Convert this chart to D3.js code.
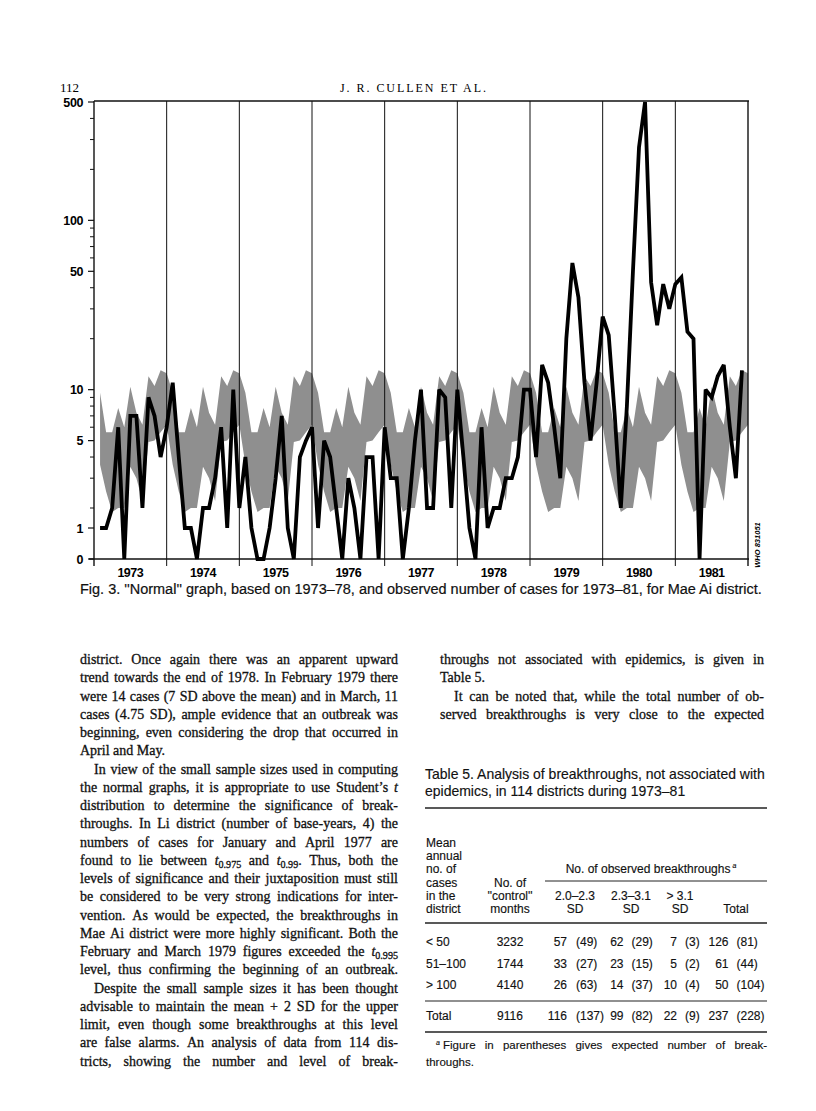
<!DOCTYPE html>
<html>
<head>
<meta charset="utf-8">
<script src="https://cdnjs.cloudflare.com/ajax/libs/d3/7.8.5/d3.min.js"></script>
<style>
  html, body { margin: 0; padding: 0; background: #fff; }
  svg { display: block; }
</style>
</head>
<body>
<svg id="page" width="816" height="1111"></svg>
<script>
// "normal" range for each calendar month (Jan..Dec), based on 1973-78
const normalUpper = [9.6, 5.6, 5.6, 7.8, 6.0, 10.4, 7.3, 6.2, 12, 10.5, 13, 12.5];
const normalLower = [3.6, 2.5, 1.8, 2.0, 2.0, 3.5, 3.0, 2.2, 4.9, 5.0, 5.6, 6.2];

// observed monthly cases, Mae Ai district
const years = [1973, 1974, 1975, 1976, 1977, 1978, 1979, 1980, 1981];
const cases1973 = [1, 1, 2, 6, 0, 7, 7, 2, 9, 7, 4, 6];
const cases1974 = [11, 4, 1, 1, 0, 2, 2, 3, 6, 1, 10, 2];
const cases1975 = [4, 1, 0, 0, 1, 3, 7, 1, 0, 4, 5, 6];
const cases1976 = [1, 5, 4, 2, 0, 3, 2, 0, 4, 4, 0, 6];
const cases1977 = [3, 3, 0, 2, 5, 10, 2, 2, 10, 9, 2, 10];
const cases1978 = [4, 1, 0, 6, 1, 2, 2, 3, 3, 4, 10, 10];
const cases1979 = [4, 14, 11, 6, 3, 20, 56, 35, 11, 5, 11, 27];
const cases1980 = [21, 7, 2, 8, 50, 270, 500, 43, 24, 42, 30, 42];
const cases1981 = [46, 22, 20, 0, 10, 9, 12, 14, 6, 3, 13];

const yMajor = [0, 1, 5, 10, 50, 100, 500];
const yMinor = [2, 3, 4, 6, 7, 8, 9, 20, 30, 40, 60, 70, 80, 90, 200, 300, 400];

// Table 5
const groups = ["< 50", "51\u2013100", "> 100"];
const controlMonths = [3232, 1744, 4140];
const obs20to23 = [57, 33, 26], exp20to23 = [49, 27, 63];
const obs23to31 = [62, 23, 14], exp23to31 = [29, 15, 37];
const obsOver31 = [7, 5, 10], expOver31 = [3, 2, 4];
const obsTotal = [126, 61, 50], expTotal = [81, 44, 104];
const totalRow = { months: 9116, obs: [116, 99, 22, 237], exp: [137, 82, 9, 228] };

const leftLines = [
  { t: "district. Once again there was an apparent upward" },
  { t: "trend towards the end of 1978. In February 1979 there" },
  { t: "were 14 cases (7 SD above the mean) and in March, 11" },
  { t: "cases (4.75 SD), ample evidence that an outbreak was" },
  { t: "beginning, even considering the drop that occurred in" },
  { t: "April and May.", last: true },
  { t: "In view of the small sample sizes used in computing", indent: true },
  { t: "the normal graphs, it is appropriate to use Student\u2019s _t" },
  { t: "distribution to determine the significance of break-" },
  { t: "throughs. In Li district (number of base-years, 4) the" },
  { t: "numbers of cases for January and April 1977 are" },
  { t: "found to lie between t[0.975] and t[0.99]. Thus, both the" },
  { t: "levels of significance and their juxtaposition must still" },
  { t: "be considered to be very strong indications for inter-" },
  { t: "vention. As would be expected, the breakthroughs in" },
  { t: "Mae Ai district were more highly significant. Both the" },
  { t: "February and March 1979 figures exceeded the t[0.995]" },
  { t: "level, thus confirming the beginning of an outbreak." },
  { t: "Despite the small sample sizes it has been thought", indent: true },
  { t: "advisable to maintain the mean + 2 SD for the upper" },
  { t: "limit, even though some breakthroughs at this level" },
  { t: "are false alarms. An analysis of data from 114 dis-" },
  { t: "tricts, showing the number and level of break-" }
];
const rightLines = [
  { t: "throughs not associated with epidemics, is given in" },
  { t: "Table 5.", last: true },
  { t: "It can be noted that, while the total number of ob-", indent: true },
  { t: "served breakthroughs is very close to the expected" }
];

const svg = d3.select("#page");
const serif = "'Liberation Serif', 'Times New Roman', serif";
const sans = "'Liberation Sans', Arial, Helvetica, sans-serif";

// ---------- running head ----------
svg.append("text").attr("x", 60).attr("y", 92)
  .attr("font-family", serif).attr("font-size", 13).text("112");
svg.append("text").attr("x", 413).attr("y", 92).attr("text-anchor", "middle")
  .attr("font-family", serif).attr("font-size", 12)
  .attr("textLength", 146).attr("lengthAdjust", "spacing")
  .text("J. R. CULLEN ET AL.");

// ---------- chart ----------
const X0 = 94, X1 = 748, YTOP = 102, YBOT = 559;
const x = d3.scaleLinear().domain([0, 108]).range([X0, X1]);
const yLog = d3.scaleLog().domain([2, 500]).range([508, YTOP]);
const yLow = d3.scaleLinear().domain([0, 1, 2]).range([YBOT, 528, 508]);
const y = v => (v >= 2 ? yLog(v) : yLow(v));

const chart = svg.append("g");

// normal band: same monthly pattern every year
const band = d3.range(108).map(m => ({ m, lo: normalLower[m % 12], hi: normalUpper[m % 12] }));
chart.append("path")
  .datum(band)
  .attr("fill", "#8f8f8f")
  .attr("d", d3.area().x(d => x(d.m + 1)).y0(d => y(d.lo)).y1(d => y(d.hi)));

// year separators (also the x-axis ticks)
chart.selectAll("line.year")
  .data(d3.range(0, 109, 12))
  .join("line")
  .attr("class", "year")
  .attr("x1", d => x(d)).attr("x2", d => x(d))
  .attr("y1", YTOP - 1).attr("y2", YBOT + 7)
  .attr("stroke", "#111").attr("stroke-width", (d, i) => (i === 0 || i === 9 ? 1.4 : 1));

// top border and x axis
chart.append("line").attr("x1", X0).attr("x2", X1 + 1).attr("y1", YTOP - 1).attr("y2", YTOP - 1)
  .attr("stroke", "#111").attr("stroke-width", 1.6);
chart.append("line").attr("x1", X0 - 5).attr("x2", X1 + 1).attr("y1", YBOT).attr("y2", YBOT)
  .attr("stroke", "#111").attr("stroke-width", 1.4);

// y ticks
chart.selectAll("line.ymaj").data(yMajor).join("line").attr("class", "ymaj")
  .attr("x1", X0 - 6).attr("x2", X0).attr("y1", d => y(d)).attr("y2", d => y(d))
  .attr("stroke", "#111").attr("stroke-width", 1.2);
chart.selectAll("line.ymin").data(yMinor).join("line").attr("class", "ymin")
  .attr("x1", X0 - 4).attr("x2", X0).attr("y1", d => y(d)).attr("y2", d => y(d))
  .attr("stroke", "#111").attr("stroke-width", 1);
chart.selectAll("text.ylab").data(yMajor).join("text").attr("class", "ylab")
  .attr("x", X0 - 11).attr("y", d => y(d)).attr("dy", "0.36em")
  .attr("text-anchor", "end")
  .attr("font-family", sans).attr("font-weight", "bold").attr("font-size", 12.5)
  .attr("letter-spacing", -0.4)
  .text(d => d);

// year labels
chart.selectAll("text.xlab").data(years).join("text").attr("class", "xlab")
  .attr("x", (d, i) => x(i * 12 + 6)).attr("y", YBOT + 18)
  .attr("text-anchor", "middle")
  .attr("font-family", sans).attr("font-weight", "bold").attr("font-size", 12.5)
  .attr("letter-spacing", -0.5)
  .text(d => d);

// observed cases
const observed = [].concat(cases1973, cases1974, cases1975, cases1976, cases1977,
  cases1978, cases1979, cases1980, cases1981);
chart.append("path")
  .datum(observed)
  .attr("fill", "none").attr("stroke", "#000").attr("stroke-width", 3.8)
  .attr("stroke-linejoin", "miter").attr("stroke-miterlimit", 2.5)
  .attr("d", d3.line().x((d, i) => x(i + 1)).y(d => y(d)));

// figure code
svg.append("text")
  .attr("transform", `translate(${X1 + 12},${YBOT - 14}) rotate(-90)`)
  .attr("text-anchor", "middle")
  .attr("font-family", sans).attr("font-size", 7.5).attr("font-weight", "bold")
  .attr("font-style", "italic")
  .text("WHO 831051");

// helper: fit a text's font size to a given width
function fitText(sel, width, base) {
  sel.attr("font-size", base);
  const w = sel.node().getComputedTextLength();
  const fs = base * width / w;
  sel.attr("font-size", fs);
  return fs;
}

// caption
const cap = svg.append("text").attr("x", 80).attr("y", 594)
  .attr("font-family", sans).attr("fill", "#111")
  .attr("stroke", "#111").attr("stroke-width", 0.2)
  .text("Fig. 3. ''Normal'' graph, based on 1973\u201378, and observed number of cases for 1973\u201381, for Mae Ai district.");
fitText(cap, 682, 12);

// ---------- body text (justified columns) ----------
const body = svg.append("g").attr("font-family", serif).attr("fill", "#111")
  .attr("stroke", "#111").attr("stroke-width", 0.3);

function fillWord(t, w, fs) {
  let m = w.match(/^t\[([^\]]+)\](.*)$/);
  if (m) {
    t.append("tspan").attr("font-style", "italic").text("t");
    t.append("tspan").attr("font-size", fs * 0.72).attr("dy", fs * 0.22).text(m[1]);
    if (m[2]) t.append("tspan").attr("dy", -fs * 0.22).text(m[2]);
    return;
  }
  m = w.match(/^_(.+)$/);
  if (m) { t.append("tspan").attr("font-style", "italic").text(m[1]); return; }
  t.text(w);
}

function layoutColumn(lines, x0, width, y0, lh, fs) {
  const g = body.append("g").attr("font-size", fs);
  lines.forEach((ln, i) => {
    const yb = y0 + i * lh;
    const indent = ln.indent ? 14 : 0;
    const words = ln.t.split(" ");
    const nodes = words.map(w => {
      const t = g.append("text").attr("y", yb);
      fillWord(t, w, fs);
      return t;
    });
    const widths = nodes.map(n => n.node().getComputedTextLength());
    const total = d3.sum(widths);
    const gap = ln.last ? fs * 0.25 : (width - indent - total) / (words.length - 1);
    let cx = x0 + indent;
    nodes.forEach((n, j) => { n.attr("x", cx); cx += widths[j] + gap; });
  });
}

// choose a font size so the tightest line still has normal word spaces
const probe = body.append("text").attr("font-size", 14);
let worst = 0;
leftLines.concat(rightLines).forEach(ln => {
  if (ln.last) return;
  probe.text(ln.t.replace(/_/g, "").replace(/\[|\]/g, ""));
  worst = Math.max(worst, (probe.node().getComputedTextLength() + (ln.indent ? 14 : 0)) / 318);
});
probe.remove();
const bodySize = Math.min(14, 14 / worst * 0.985);

layoutColumn(leftLines, 80, 318, 664, 18.25, bodySize);
layoutColumn(rightLines, 440, 324, 664, 18.25, bodySize);

// ---------- Table 5 ----------
const tab = svg.append("g").attr("font-family", sans).attr("fill", "#111")
  .attr("stroke", "#111").attr("stroke-width", 0.15);
const TL = 425, TR = 767;
const tc1 = tab.append("text").attr("x", TL).attr("y", 779)
  .text("Table 5. Analysis of breakthroughs, not associated with");
const capSize = fitText(tc1, 340, 12);
tab.append("text").attr("x", TL).attr("y", 796).attr("font-size", capSize)
  .text("epidemics, in 114 districts during 1973\u201381");

const rule = (yy, x1, w) => tab.append("line").attr("x1", x1).attr("x2", TR)
  .attr("y1", yy).attr("y2", yy).attr("stroke", "#222").attr("stroke-width", w);
rule(808, TL, 1.4);
rule(881, 545, 1);
rule(923, TL, 1.4);
rule(1001, TL, 1.2);
rule(1032, TL, 1.4);

const tfs = 12;
const head = tab.append("g").attr("font-size", tfs);
["Mean", "annual", "no. of", "cases", "in the", "district"].forEach((s, i) =>
  head.append("text").attr("x", TL + 1).attr("y", 847 + i * 13.2).text(s));
["No. of", "''control''", "months"].forEach((s, i) =>
  head.append("text").attr("x", 510).attr("y", 887 + i * 13.2).attr("text-anchor", "middle").text(s));
const span = head.append("text").attr("x", 651).attr("y", 873).attr("text-anchor", "middle");
span.append("tspan").text("No. of observed breakthroughs");
span.append("tspan").attr("font-size", 7).attr("font-style", "italic").attr("dy", -5).attr("dx", 2).text("a");

const subHeads = [["2.0\u20132.3", 575], ["2.3\u20133.1", 631], ["> 3.1", 680]];
subHeads.forEach(([s, cx]) => {
  head.append("text").attr("x", cx).attr("y", 900).attr("text-anchor", "middle").text(s);
  head.append("text").attr("x", cx).attr("y", 913).attr("text-anchor", "middle").text("SD");
});
head.append("text").attr("x", 736).attr("y", 913).attr("text-anchor", "middle").text("Total");

// number right edge, parenthesis left edge
const cellPos = [[567, 576], [623.5, 631.5], [677, 685], [728.5, 736.5]];
function row(yy, label, months, obs, exp) {
  const r = tab.append("g").attr("font-size", tfs);
  r.append("text").attr("x", TL + 1).attr("y", yy).text(label);
  r.append("text").attr("x", 510).attr("y", yy).attr("text-anchor", "middle").text(months);
  obs.forEach((o, k) => {
    r.append("text").attr("x", cellPos[k][0]).attr("y", yy).attr("text-anchor", "end").text(o);
    r.append("text").attr("x", cellPos[k][1]).attr("y", yy).text(`(${exp[k]})`);
  });
}
groups.forEach((gname, i) => row(946 + i * 21.5, gname, controlMonths[i],
  [obs20to23[i], obs23to31[i], obsOver31[i], obsTotal[i]],
  [exp20to23[i], exp23to31[i], expOver31[i], expTotal[i]]));
row(1020, "Total", totalRow.months, totalRow.obs, totalRow.exp);

// footnote
const fn = tab.append("g").attr("font-size", 11.5);
const fnWords = ["Figure", "in", "parentheses", "gives", "expected", "number", "of", "break-"];
fn.append("text").attr("x", 436).attr("y", 1045)
  .attr("font-size", 7).attr("font-style", "italic").text("a");
const fnNodes = fnWords.map(w => fn.append("text").attr("y", 1049).text(w));
const fnW = fnNodes.map(n => n.node().getComputedTextLength());
const fnStart = 443;
const fnGap = (TR - fnStart - d3.sum(fnW)) / (fnWords.length - 1);
let fx = fnStart;
fnNodes.forEach((n, j) => { n.attr("x", fx); fx += fnW[j] + fnGap; });
fn.append("text").attr("x", TL + 1).attr("y", 1066).text("throughs.");
</script>
</body>
</html>
